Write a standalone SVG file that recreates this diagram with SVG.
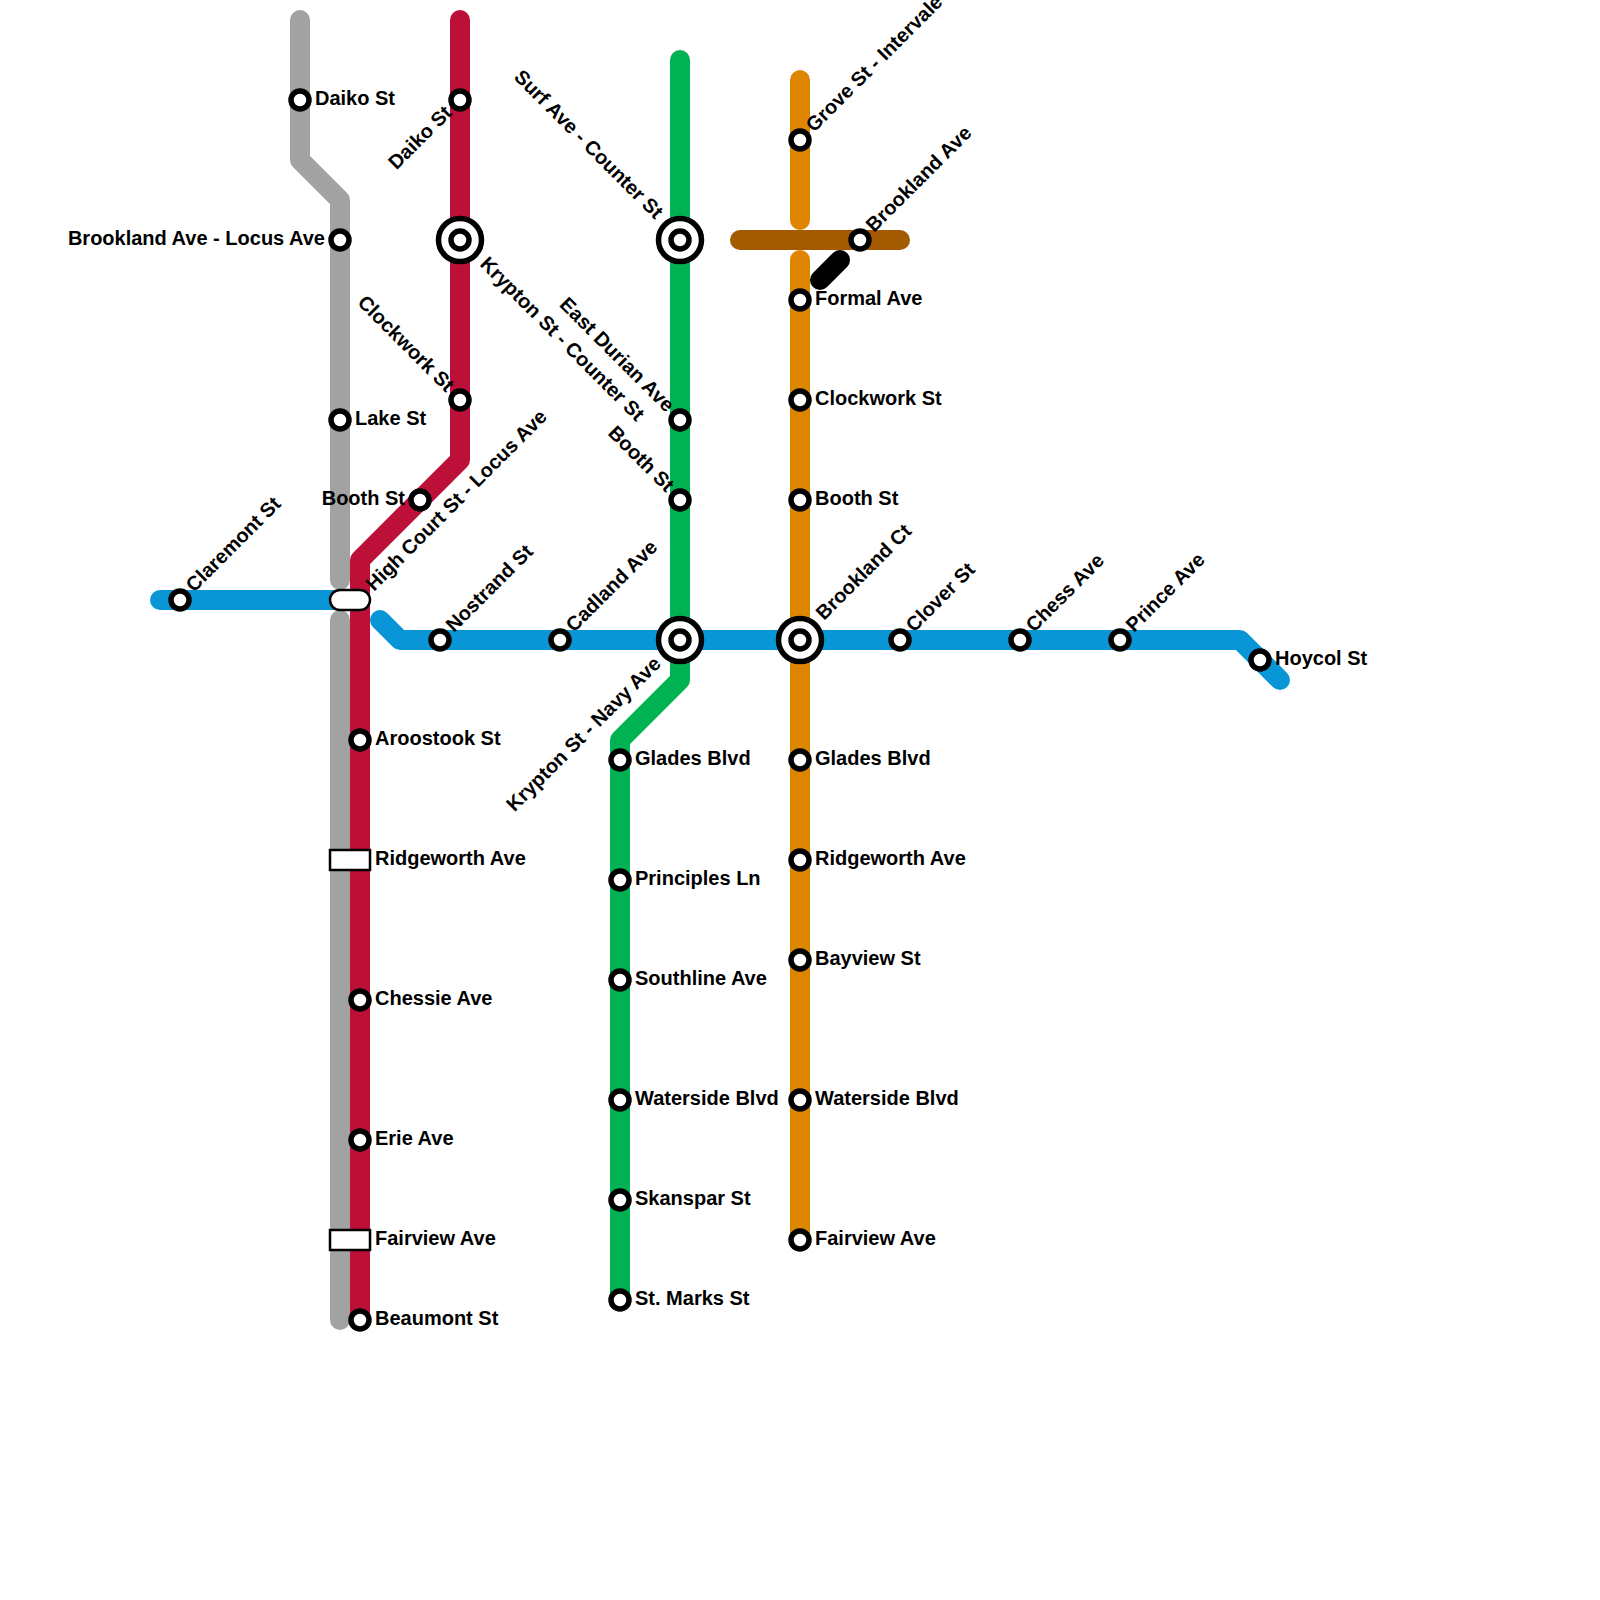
<svg xmlns="http://www.w3.org/2000/svg" width="1600" height="1600" viewBox="0 0 1600 1600">
<style>
.l{fill:none;stroke-width:20;stroke-linecap:round;stroke-linejoin:round}
.s{fill:#fff;stroke:#000;stroke-width:5.5}
.b{fill:#fff;stroke:#000;stroke-width:2.5}
text{font-family:"Liberation Sans",Arial,sans-serif;font-weight:700;font-size:20px;fill:#000}
.e{text-anchor:end}
</style>
<rect width="1600" height="1600" fill="#fff"/>
<g id="connectors">
<path class="l" stroke="#a2a2a2" d="M300 20V160L340 200V580"/>
<path class="l" stroke="#a2a2a2" d="M340 620V1320"/>
<path class="l" stroke="#bd1038" d="M460 20V460L360 560V1320"/>
<path class="l" stroke="#0896d7" d="M160 600H350"/>
<path class="l" stroke="#0896d7" d="M380 620L400 640H1240L1280 680"/>
<path class="l" stroke="#00b251" d="M680 60V680L620 740V1300"/>
<path class="l" stroke="#df8600" d="M800 80V220"/>
<path class="l" stroke="#df8600" d="M800 260V1240"/>
<path class="l" stroke="#a45a00" d="M740 240H900"/>
<path class="l" stroke="#000" d="M820 280L840 260"/>
</g>
<g id="n1"><circle class="s" cx="300" cy="100" r="9"/><text x="315" y="104.5">Daiko St</text></g>
<g id="n2"><circle class="s" cx="340" cy="240" r="9"/><text class="e" x="325" y="244.5">Brookland Ave - Locus Ave</text></g>
<g id="n3"><circle class="s" cx="340" cy="420" r="9"/><text x="355" y="424.5">Lake St</text></g>
<g id="n4"><circle class="s" cx="460" cy="100" r="9"/><text class="e" transform="translate(453 114) rotate(-45)">Daiko St</text></g>
<g id="n5"><circle class="s" cx="460" cy="240" r="21.5"/><circle class="s" cx="460" cy="240" r="9"/><text transform="translate(479 265) rotate(45)">Krypton St - Counter St</text></g>
<g id="n6"><circle class="s" cx="460" cy="400" r="9"/><text class="e" transform="translate(446 393) rotate(45)">Clockwork St</text></g>
<g id="n7"><circle class="s" cx="420" cy="500" r="9"/><text class="e" x="405" y="504.5">Booth St</text></g>
<g id="n8"><rect class="b" x="330" y="590" width="40" height="20" rx="10"/><text transform="translate(374 592) rotate(-45)">High Court St - Locus Ave</text></g>
<g id="n9"><circle class="s" cx="360" cy="740" r="9"/><text x="375" y="744.5">Aroostook St</text></g>
<g id="n10"><rect class="b" x="330" y="850" width="40" height="20"/><text x="375" y="864.5">Ridgeworth Ave</text></g>
<g id="n11"><circle class="s" cx="360" cy="1000" r="9"/><text x="375" y="1004.5">Chessie Ave</text></g>
<g id="n12"><circle class="s" cx="360" cy="1140" r="9"/><text x="375" y="1144.5">Erie Ave</text></g>
<g id="n13"><rect class="b" x="330" y="1230" width="40" height="20"/><text x="375" y="1244.5">Fairview Ave</text></g>
<g id="n14"><circle class="s" cx="360" cy="1320" r="9"/><text x="375" y="1324.5">Beaumont St</text></g>
<g id="n15"><circle class="s" cx="180" cy="600" r="9"/><text transform="translate(194 593) rotate(-45)">Claremont St</text></g>
<g id="n16"><circle class="s" cx="440" cy="640" r="9"/><text transform="translate(454 633) rotate(-45)">Nostrand St</text></g>
<g id="n17"><circle class="s" cx="560" cy="640" r="9"/><text transform="translate(574 633) rotate(-45)">Cadland Ave</text></g>
<g id="n18"><circle class="s" cx="680" cy="640" r="21.5"/><circle class="s" cx="680" cy="640" r="9"/><text class="e" transform="translate(662 665) rotate(-45)">Krypton St - Navy Ave</text></g>
<g id="n19"><circle class="s" cx="800" cy="640" r="21.5"/><circle class="s" cx="800" cy="640" r="9"/><text transform="translate(824 621) rotate(-45)">Brookland Ct</text></g>
<g id="n20"><circle class="s" cx="900" cy="640" r="9"/><text transform="translate(914 633) rotate(-45)">Clover St</text></g>
<g id="n21"><circle class="s" cx="1020" cy="640" r="9"/><text transform="translate(1034 633) rotate(-45)">Chess Ave</text></g>
<g id="n22"><circle class="s" cx="1120" cy="640" r="9"/><text transform="translate(1134 633) rotate(-45)">Prince Ave</text></g>
<g id="n23"><circle class="s" cx="1260" cy="660" r="9"/><text x="1275" y="664.5">Hoycol St</text></g>
<g id="n24"><circle class="s" cx="680" cy="240" r="21.5"/><circle class="s" cx="680" cy="240" r="9"/><text class="e" transform="translate(655 220) rotate(45)">Surf Ave - Counter St</text></g>
<g id="n25"><circle class="s" cx="680" cy="420" r="9"/><text class="e" transform="translate(666 413) rotate(45)">East Durian Ave</text></g>
<g id="n26"><circle class="s" cx="680" cy="500" r="9"/><text class="e" transform="translate(666 493) rotate(45)">Booth St</text></g>
<g id="n27"><circle class="s" cx="620" cy="760" r="9"/><text x="635" y="764.5">Glades Blvd</text></g>
<g id="n28"><circle class="s" cx="620" cy="880" r="9"/><text x="635" y="884.5">Principles Ln</text></g>
<g id="n29"><circle class="s" cx="620" cy="980" r="9"/><text x="635" y="984.5">Southline Ave</text></g>
<g id="n30"><circle class="s" cx="620" cy="1100" r="9"/><text x="635" y="1104.5">Waterside Blvd</text></g>
<g id="n31"><circle class="s" cx="620" cy="1200" r="9"/><text x="635" y="1204.5">Skanspar St</text></g>
<g id="n32"><circle class="s" cx="620" cy="1300" r="9"/><text x="635" y="1304.5">St. Marks St</text></g>
<g id="n33"><circle class="s" cx="800" cy="140" r="9"/><text transform="translate(814 133) rotate(-45)">Grove St - Intervale</text></g>
<g id="n34"><circle class="s" cx="860" cy="240" r="9"/><text transform="translate(874 233) rotate(-45)">Brookland Ave</text></g>
<g id="n35"><circle class="s" cx="800" cy="300" r="9"/><text x="815" y="304.5">Formal Ave</text></g>
<g id="n36"><circle class="s" cx="800" cy="400" r="9"/><text x="815" y="404.5">Clockwork St</text></g>
<g id="n37"><circle class="s" cx="800" cy="500" r="9"/><text x="815" y="504.5">Booth St</text></g>
<g id="n38"><circle class="s" cx="800" cy="760" r="9"/><text x="815" y="764.5">Glades Blvd</text></g>
<g id="n39"><circle class="s" cx="800" cy="860" r="9"/><text x="815" y="864.5">Ridgeworth Ave</text></g>
<g id="n40"><circle class="s" cx="800" cy="960" r="9"/><text x="815" y="964.5">Bayview St</text></g>
<g id="n41"><circle class="s" cx="800" cy="1100" r="9"/><text x="815" y="1104.5">Waterside Blvd</text></g>
<g id="n42"><circle class="s" cx="800" cy="1240" r="9"/><text x="815" y="1244.5">Fairview Ave</text></g>
</svg>
